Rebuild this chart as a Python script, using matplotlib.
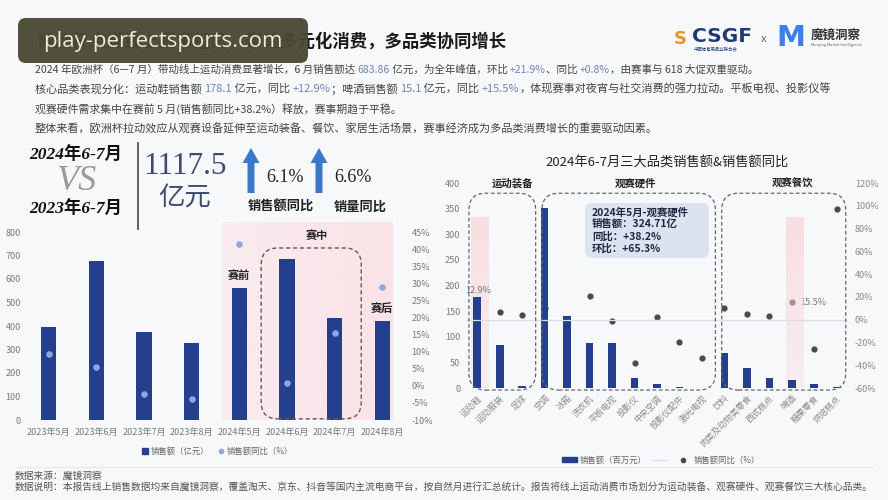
import matplotlib
matplotlib.use('Agg')
import matplotlib.pyplot as plt
import numpy as np
from matplotlib.patches import FancyBboxPatch, FancyArrow, Rectangle
from matplotlib.lines import Line2D
from matplotlib.transforms import blended_transform_factory
from matplotlib.ticker import FuncFormatter

plt.rcParams['font.family'] = ['Noto Sans CJK SC', 'DejaVu Sans']

# ---------------- data ----------------
months = ['2023年5月', '2023年6月', '2023年7月', '2023年8月',
          '2024年5月', '2024年6月', '2024年7月', '2024年8月']
sales_yi = [396, 677, 374, 328, 562, 683.86, 434, 421]
sales_yoy = [9.4, 5.6, -2.3, -3.8, 41.5, 0.8, 15.5, 29.0]
phase_labels = {4: '赛前', 7: '赛后'}
mid_phase = [5, 6]

categories = ['运动鞋', '运动服装', '足球', '空调', '冰箱', '洗衣机', '平板电视',
              '投影仪', '中央空调', '投影仪配件', '激光电视', '饮料',
              '肉类及动物类零食', '西式糕点', '啤酒', '糖果零食', '烘焙糕点']
cat_sales = [178.1, 84, 3, 351, 140, 88, 88, 19, 8, 2, 0.8, 69, 39, 19, 15.1, 7, 1]
cat_yoy = [12.9, 7, 4.5, 10, -5, 21, -1, -38, 2, -20, -34, 10.5, 5, 3.5, 15.5, -26, 97]
group_names = ['运动装备', '观赛硬件', '观赛餐饮']
group_sizes = [3, 8, 6]
highlight_idx = [0, 14]

W, H = 888, 500
BG = '#f7f8fa'
NAVY = '#243f8e'
TICK = '#7a7a7a'

fig = plt.figure(figsize=(W / 100, H / 100), dpi=100)
fig.patch.set_facecolor(BG)


def box(x0, y0, x1, y1):
    return [x0 / W, 1 - y1 / H, (x1 - x0) / W, (y1 - y0) / H]


def clean(ax):
    for s in ax.spines.values():
        s.set_visible(False)
    ax.tick_params(length=0, labelsize=6.5, labelcolor=TICK)
    ax.set_facecolor('none')


# ---------------- left chart ----------------
ax1 = fig.add_axes(box(25, 232, 406, 420))
x = np.arange(len(months))
ax1.set_xlim(-0.5, len(months) - 0.5)
ax1.set_ylim(0, 800)
ax1.set_yticks(range(0, 801, 100))
ax1.set_xticks(x, months)
clean(ax1)
ax1.tick_params(axis='y', pad=3)
ax1.tick_params(axis='x', pad=6)

# pink background for 2024 period
pink = np.zeros((1, 64, 4))
pink[..., 0] = 251 / 255
pink[..., 1] = 226 / 255
pink[..., 2] = 231 / 255
pink[..., 3] = np.linspace(0.55, 1.0, 64)
im = ax1.imshow(pink, extent=(3.64, 7.23, 0, 840), aspect='auto', zorder=0)
im.set_clip_on(False)

ax1.bar(x, sales_yi, width=0.32, color=NAVY, zorder=3)

# dashed box around mid-tournament months
pxx = (406 - 25) / len(months)
pxy = (420 - 232) / 800
asp = (1 / pxy) / (1 / pxx)
bx0 = min(mid_phase) - 0.54
bx1 = max(mid_phase) + 0.56
fb = FancyBboxPatch((bx0, 5), bx1 - bx0, 727,
                    boxstyle='round,pad=0,rounding_size=0.35',
                    mutation_aspect=asp, fill=False, ec='#6b5555',
                    ls=(0, (3, 2)), lw=1.0, zorder=4, clip_on=False)
ax1.add_patch(fb)
ax1.text(np.mean(mid_phase) + 0.12, 785, '赛中', ha='center', va='center',
         fontsize=8, fontweight='bold', color='#222', zorder=5)
for i, lab in phase_labels.items():
    ax1.text(i, sales_yi[i] + 55, lab, ha='center', va='center', fontsize=8,
             fontweight='bold', color='#222', zorder=5)

ax1b = ax1.twinx()
clean(ax1b)
ax1b.set_ylim(-10, 45)
ax1b.set_yticks(range(-10, 46, 5))
ax1b.yaxis.set_major_formatter(FuncFormatter(lambda v, p: f'{v:.0f}%'))
ax1b.tick_params(axis='y', pad=4)
ax1b.scatter(x, sales_yoy, s=14, color='#8ea8dc', zorder=5)

leg1_h = [Line2D([], [], marker='s', ls='none', color=NAVY, markersize=4),
          Line2D([], [], marker='o', ls='none', color='#8ea8dc', markersize=3)]
fig.legend(leg1_h, ['销售额（亿元）', '销售额同比（%）'], loc='center',
           bbox_to_anchor=(217 / W, 1 - 451 / H), ncol=2, frameon=False,
           fontsize=6, labelcolor='#666', handlelength=0.8, handletextpad=0.3,
           columnspacing=1.0)

# ---------------- right chart ----------------
ax_s = fig.add_axes(box(466, 183, 848, 388))
ax_y = ax_s.twinx()
ax_s.set_zorder(ax_y.get_zorder() + 1)
clean(ax_s)
clean(ax_y)
xc = np.arange(len(categories))
ax_s.set_xlim(-0.5, len(categories) - 0.5)
ax_s.set_ylim(0, 400)
ax_s.set_yticks(range(0, 401, 50))
ax_s.tick_params(axis='y', pad=4)
ax_s.set_xticks(xc, categories, rotation=45, ha='right', rotation_mode='anchor')
ax_s.tick_params(axis='x', pad=4, labelsize=6.2, labelcolor='#8a8a8a')
ax_y.set_ylim(-60, 120)
ax_y.set_yticks(range(-60, 121, 20))
ax_y.yaxis.set_major_formatter(FuncFormatter(lambda v, p: f'{v:.0f}%'))
ax_y.tick_params(axis='y', pad=5, labelcolor='#8a8a8a')

# pink highlight bands
band = np.zeros((64, 1, 4))
band[..., 0] = 249 / 255
band[..., 1] = 214 / 255
band[..., 2] = 218 / 255
band[..., 3] = np.linspace(0.75, 0.3, 64)[:, None]
for i in highlight_idx:
    ax_s.imshow(band, extent=(i - 0.27, i + 0.5, 0, 332), aspect='auto', zorder=0)
ax_s.set_xlim(-0.5, len(categories) - 0.5)
ax_s.set_ylim(0, 400)

ax_s.bar(xc, cat_sales, width=0.34, color=NAVY, zorder=3)
ax_y.scatter(xc, cat_yoy, s=12, color='#4a4a4a', zorder=3)

# zero reference line (drawn over bars)
tr = blended_transform_factory(ax_s.transAxes, ax_y.transData)
zline, = ax_s.plot([0, 1], [0, 0], transform=tr, color='#d8dde8', lw=0.9, zorder=4)

ax_s.text(0.05, cat_sales[0] + 4, f'{cat_yoy[0]}%', ha='center', va='bottom',
          fontsize=6.5, color='#777', zorder=5)
ax_y.annotate(f'{cat_yoy[14]}%', (14, cat_yoy[14]), xytext=(6, 0),
              textcoords='offset points', va='center', fontsize=6.5, color='#777')

# group dashed boxes + labels
rpx_x = (848 - 466) / len(categories)
rpx_y = (388 - 183) / 400
rasp = (1 / rpx_y) / (1 / rpx_x)
start = 0
for gi, (gname, gs) in enumerate(zip(group_names, group_sizes)):
    end = start + gs - 1
    left = start - (0.37 if gi == 0 else 0.12)
    right = end + (0.6 if gi < len(group_sizes) - 1 else 0.4)
    p = FancyBboxPatch((left, -4), right - left, 384,
                       boxstyle='round,pad=0,rounding_size=0.75',
                       mutation_aspect=rasp, fill=False, ec='#666',
                       ls=(0, (3, 2)), lw=0.9, zorder=5, clip_on=False)
    ax_s.add_patch(p)
    ax_s.text((start + end) / 2 + 0.55, 400, gname, ha='center', va='center',
              fontsize=7.5, fontweight='bold', color='#222')
    start = end + 1

leg2_h = [Rectangle((0, 0), 1, 1, color=NAVY),
          Line2D([], [], color='#d8dde8', lw=0.9),
          Line2D([], [], marker='o', ls='none', color='#4a4a4a', markersize=3)]
fig.legend(leg2_h, ['销售额（百万元）', '', '销售额同比（%）'], loc='center',
           bbox_to_anchor=(661 / W, 1 - 460 / H), ncol=3, frameon=False,
           fontsize=6, labelcolor='#666', handlelength=1.8, handletextpad=0.4,
           columnspacing=0.6, handleheight=0.5)

# ---------------- overlay (texts & decorations) ----------------
ov = fig.add_axes([0, 0, 1, 1])
ov.set_xlim(0, W)
ov.set_ylim(H, 0)
ov.axis('off')
ov.set_zorder(10)

ov.text(38, 42, '欧洲杯点燃线上赛事经济，带动多元化消费，多品类协同增长',
        fontsize=12.5, fontweight='bold', color='#1a1a1a', va='center')

fig.canvas.draw()
renderer = fig.canvas.get_renderer()
HL = '#6d87b8'
BODY = '#444444'


def rich(x0, y0, parts, fs=7.8):
    xx = x0
    for s, c in parts:
        t = ov.text(xx, y0, s, color=c, fontsize=fs, va='center')
        bb = t.get_window_extent(renderer)
        xx += bb.width


rich(35, 70, [('2024 年欧洲杯（6—7 月）带动线上运动消费显著增长，6 月销售额达 ', BODY),
              ('683.86', HL), (' 亿元，为全年峰值，环比 ', BODY), ('+21.9%', HL),
              ('、同比 ', BODY), ('+0.8%', HL), ('，由赛事与 618 大促双重驱动。', BODY)], fs=7.6)
rich(35, 89, [('核心品类表现分化：运动鞋销售额 ', BODY), ('178.1', HL),
              (' 亿元，同比 ', BODY), ('+12.9%', HL), ('；啤酒销售额 ', BODY),
              ('15.1', HL), (' 亿元，同比 ', BODY), ('+15.5%', HL),
              ('，体现赛事对夜宵与社交消费的强力拉动。平板电视、投影仪等', BODY)], fs=8.0)
rich(35, 109, [('观赛硬件需求集中在赛前 5 月(销售额同比+38.2%）释放，赛事期趋于平稳。', BODY)])
rich(35, 129, [('整体来看，欧洲杯拉动效应从观赛设备延伸至运动装备、餐饮、家居生活场景，赛事经济成为多品类消费增长的重要驱动因素。', BODY)], fs=8.0)

# watermark
wm = FancyBboxPatch((18, 18), 290, 45, boxstyle='round,pad=0,rounding_size=8',
                    fc='#4a4935', ec='none', alpha=0.96, zorder=20)
ov.add_patch(wm)
ov.text(163, 42, 'play-perfectsports.com', fontsize=16, color='#efe9d6',
        family='Open Sans', ha='center', va='center', zorder=21)

# logos
ov.text(674, 39, 'S', fontsize=13, fontweight='bold', color='#e8962a',
        family='DejaVu Sans', va='center')
ov.text(692, 37, 'CSGF', fontsize=14.5, fontweight='bold', color='#1d3b72',
        family='DejaVu Sans', va='center')
ov.text(694, 49, '中国体育用品业联合会', fontsize=3.2, color='#1d3b72', va='center')
ov.text(764, 39, 'x', fontsize=8, color='#666', va='center', ha='center')
ov.text(776, 38, 'M', fontsize=21, fontweight='bold', color='#3c7fe6',
        family='DejaVu Sans', va='center')
ov.text(811, 35, '魔镜洞察', fontsize=9, fontweight='bold', color='#333', va='center')
ov.text(811, 45, 'Moojing Market Intelligence', fontsize=2.8, color='#666', va='center')

# comparison block
ov.text(76, 155, '2024年6-7月', fontsize=12.5, fontweight='bold', style='italic',
        family=['Liberation Serif', 'Noto Sans CJK SC'], ha='center', va='center', color='#111')
ov.text(76, 182, 'VS', fontsize=26, style='italic', family='Liberation Serif',
        ha='center', va='center', color='#9a9a9a')
ov.text(76, 209, '2023年6-7月', fontsize=12.5, fontweight='bold', style='italic',
        family=['Liberation Serif', 'Noto Sans CJK SC'], ha='center', va='center', color='#111')
ov.plot([138, 138], [143, 229], color='#555', lw=1.3)
ov.text(185, 166, '1117.5', fontsize=22.5, family='Liberation Serif', ha='center',
        va='center', color='#3d4c6e')
ov.text(185, 198, '亿元', fontsize=19, ha='center', va='center', color='#3d4c6e')
for ax_x in (251, 319):
    ov.add_patch(FancyArrow(ax_x, 193, 0, -45, width=7, head_width=17, head_length=15,
                            length_includes_head=True, color='#3b78c8', lw=0))
ov.text(285, 178, '6.1%', fontsize=13, family='Liberation Serif', ha='center',
        va='center', color='#222')
ov.text(353, 178, '6.6%', fontsize=13, family='Liberation Serif', ha='center',
        va='center', color='#222')
ov.text(281, 207, '销售额同比', fontsize=9.5, fontweight='bold', ha='center',
        va='center', color='#222')
ov.text(360, 207, '销量同比', fontsize=9.5, fontweight='bold', ha='center',
        va='center', color='#222')

# right chart title
ov.text(667, 163, '2024年6-7月三大品类销售额&销售额同比', fontsize=9.5,
        ha='center', va='center', color='#222')

# annotation box
ov.add_patch(FancyBboxPatch((585, 203), 124, 55, boxstyle='round,pad=0,rounding_size=7',
                            fc='#dde3ee', ec='none', zorder=6))
for k, line in enumerate(['2024年5月-观赛硬件', '销售额：324.71亿', '同比：+38.2%', '环比：+65.3%']):
    ov.text(592, 212 + k * 12.2, line, fontsize=7.5, fontweight='bold',
            color='#1e2a44', va='center', zorder=7)

# footer
ov.plot([15, 873], [467, 467], color='#e6e8ec', lw=0.8)
ov.text(15, 476, '数据来源：魔镜洞察', fontsize=7.0, color='#555', va='center')
ov.text(15, 487, '数据说明：本报告线上销售数据均来自魔镜洞察，覆盖淘天、京东、抖音等国内主流电商平台，'
        '按自然月进行汇总统计。报告将线上运动消费市场划分为运动装备、观赛硬件、观赛餐饮三大核心品类。',
        fontsize=7.0, color='#555', va='center')

fig.savefig('out.png', dpi=100, facecolor=fig.get_facecolor())
